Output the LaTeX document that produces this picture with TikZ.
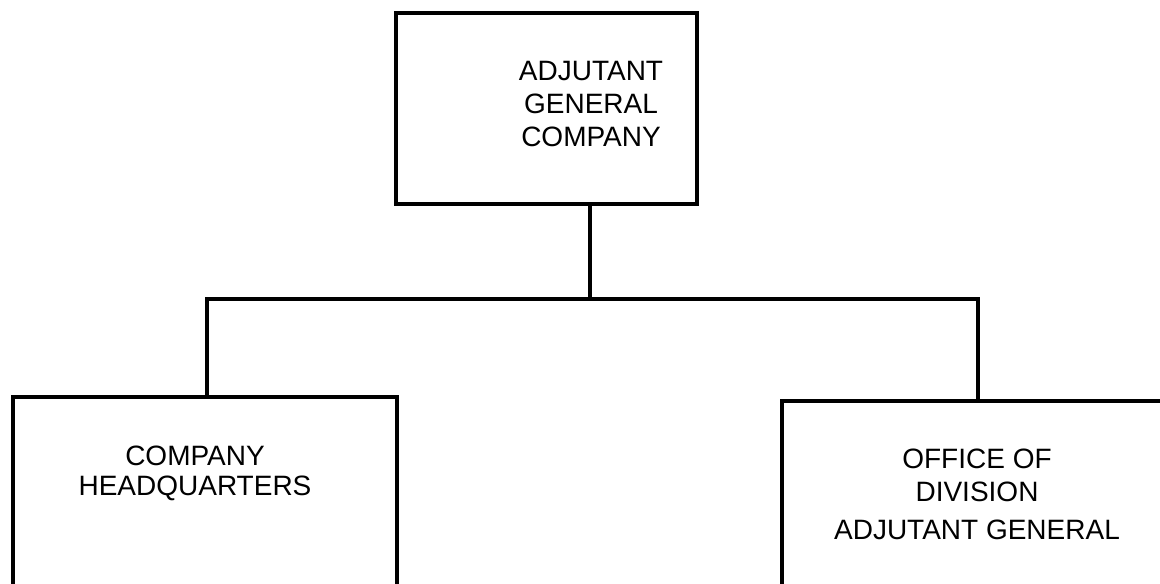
\documentclass[tikz,border=0pt]{standalone}
\usepackage{fontspec}
\setmainfont{Liberation Sans}
\begin{document}
\begin{tikzpicture}[x=1pt,y=-1pt,
  orgbox/.style={draw=black, line width=3.2pt, fill=white, inner sep=0pt},
  orgtext/.style={align=center, font=\fontsize{28}{33}\selectfont, inner sep=0pt},
  link/.style={draw=black, line width=3.2pt}]
\useasboundingbox (0,0) rectangle (1160,584);
\clip (0,0) rectangle (1160,584);
\fill[white] (0,0) rectangle (1160,584);
% boxes
\node[orgbox, minimum width=301pt, minimum height=191pt] (top) at (546.5,108.5) {};
\node[orgbox, minimum width=384pt, minimum height=260pt] (left) at (205,527) {};
\node[orgbox, minimum width=420pt, minimum height=260pt] (right) at (992,531) {};
% texts
\node[orgtext] (toptxt) at (591,104) {ADJUTANT\\GENERAL\\COMPANY};
\node[orgtext, font=\fontsize{28}{30}\selectfont] (lefttxt) at (195,473) {COMPANY\\HEADQUARTERS};
\node[orgtext] (righttxt) at (977,494) {OFFICE OF\\DIVISION\\[5pt]ADJUTANT GENERAL};
% connectors
\coordinate (j) at (590,299);
\coordinate (jl) at (207,299);
\coordinate (jr) at (978,299);
\draw[link] (j |- top.south) -- (j);
\draw[link, line join=miter] (jl |- left.north) -- (jl) -- (jr) -- (jr |- right.north);
\end{tikzpicture}
\end{document}
